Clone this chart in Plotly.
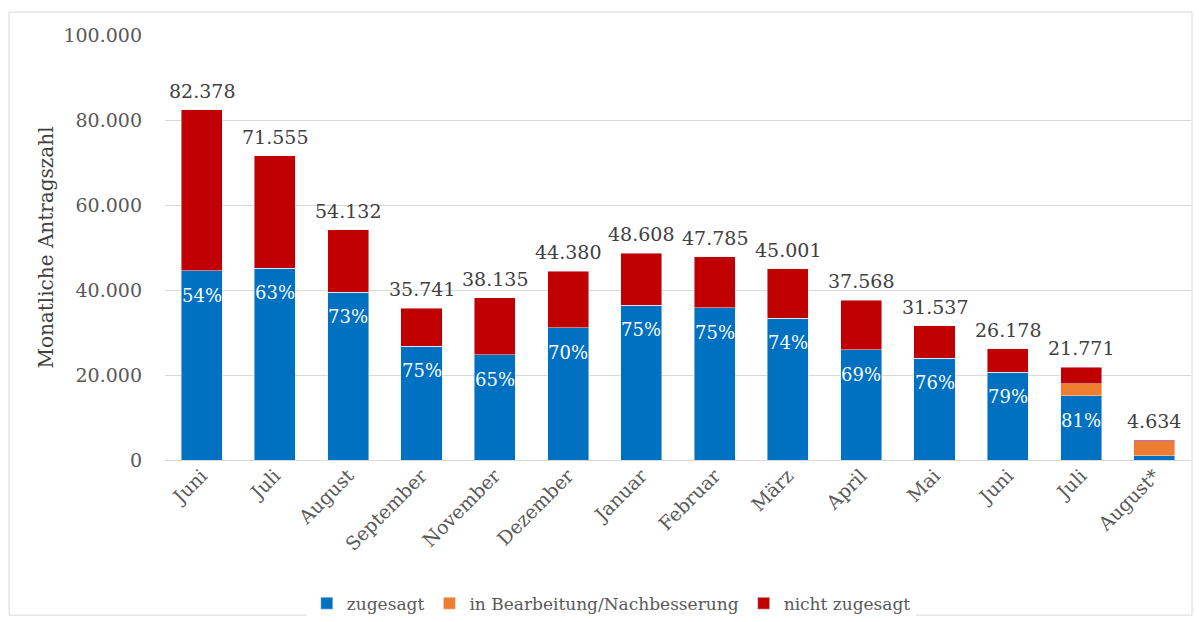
import plotly.graph_objects as go

months = ["Juni", "Juli", "August", "September", "November", "Dezember", "Januar",
          "Februar", "März", "April", "Mai", "Juni", "Juli", "August*"]
zugesagt = [44500, 45100, 39500, 26800, 24800, 31100, 36400, 35800, 33300, 25900, 24000, 20700, 15100, 1000]
in_bearbeitung = [0, 0, 0, 0, 0, 0, 0, 0, 0, 0, 0, 0, 2900, 3300]
nicht_zugesagt = [37878, 26455, 14632, 8941, 13335, 13280, 12208, 11985, 11701, 11668, 7537, 5478, 3771, 334]
totals = ["82.378", "71.555", "54.132", "35.741", "38.135", "44.380", "48.608",
          "47.785", "45.001", "37.568", "31.537", "26.178", "21.771", "4.634"]
total_values = [82378, 71555, 54132, 35741, 38135, 44380, 48608, 47785, 45001, 37568, 31537, 26178, 21771, 4634]
percents = ["54%", "63%", "73%", "75%", "65%", "70%", "75%", "75%", "74%", "69%", "76%", "79%", "81%", ""]
y_ticks = [0, 20000, 40000, 60000, 80000, 100000]
y_tick_labels = ["0", "20.000", "40.000", "60.000", "80.000", "100.000"]

FONT = "DejaVu Serif"
GREY = "#595959"
DARK = "#404040"

x = list(range(len(months)))

fig = go.Figure()
fig.add_trace(go.Bar(x=x, y=zugesagt, name="zugesagt", marker_color="#0070C0"))
fig.add_trace(go.Bar(x=x, y=in_bearbeitung, name="in Bearbeitung/Nachbesserung", marker_color="#ED7D31"))
fig.add_trace(go.Bar(x=x, y=nicht_zugesagt, name="nicht zugesagt", marker_color="#C00000"))

annotations = []
for i in x:
    annotations.append(dict(x=i, y=total_values[i], xref="x", yref="y", text=totals[i],
                            showarrow=False, yanchor="bottom", yshift=6,
                            font=dict(family=FONT, size=19, color=DARK)))
    if percents[i]:
        annotations.append(dict(x=i, y=zugesagt[i], xref="x", yref="y", text=percents[i],
                                showarrow=False, yanchor="top", yshift=-12,
                                font=dict(family=FONT, size=18, color="white")))

fig.update_layout(
    barmode="stack",
    bargap=0.44,
    width=1199, height=622,
    autosize=False,
    margin=dict(l=165, r=8, t=35, b=162, autoexpand=False),
    paper_bgcolor="white", plot_bgcolor="white",
    font=dict(family=FONT, color=GREY),
    annotations=annotations,
    legend=dict(orientation="h", xref="paper", x=0.435, xanchor="center",
                y=-0.338, yanchor="middle", font=dict(family=FONT, size=17, color=GREY),
                traceorder="normal", itemwidth=30),
    shapes=[dict(type="rect", xref="paper", yref="paper", x0=-0.152, x1=1.001,
                 y0=-0.365, y1=1.054, line=dict(color="#d9d9d9", width=1),
                 fillcolor="rgba(0,0,0,0)", layer="below")],
)
fig.update_xaxes(tickmode="array", tickvals=x, ticktext=months, tickangle=-45,
                 range=[-0.5, 13.5], showgrid=False, showline=False, ticks="",
                 automargin=False,
                 tickfont=dict(family=FONT, size=19, color=GREY))
fig.update_yaxes(range=[0, 100000], tickmode="array", tickvals=y_ticks, ticktext=y_tick_labels,
                 showgrid=True, gridcolor="#d9d9d9", gridwidth=1, zeroline=True,
                 zerolinecolor="#d9d9d9", zerolinewidth=1, ticks="", ticklabelstandoff=22,
                 automargin=False,
                 tickfont=dict(family=FONT, size=19, color=GREY),
                 title=dict(text="Monatliche Antragszahl", standoff=4,
                            font=dict(family=FONT, size=20, color=DARK)))

fig.write_html("out.html")
